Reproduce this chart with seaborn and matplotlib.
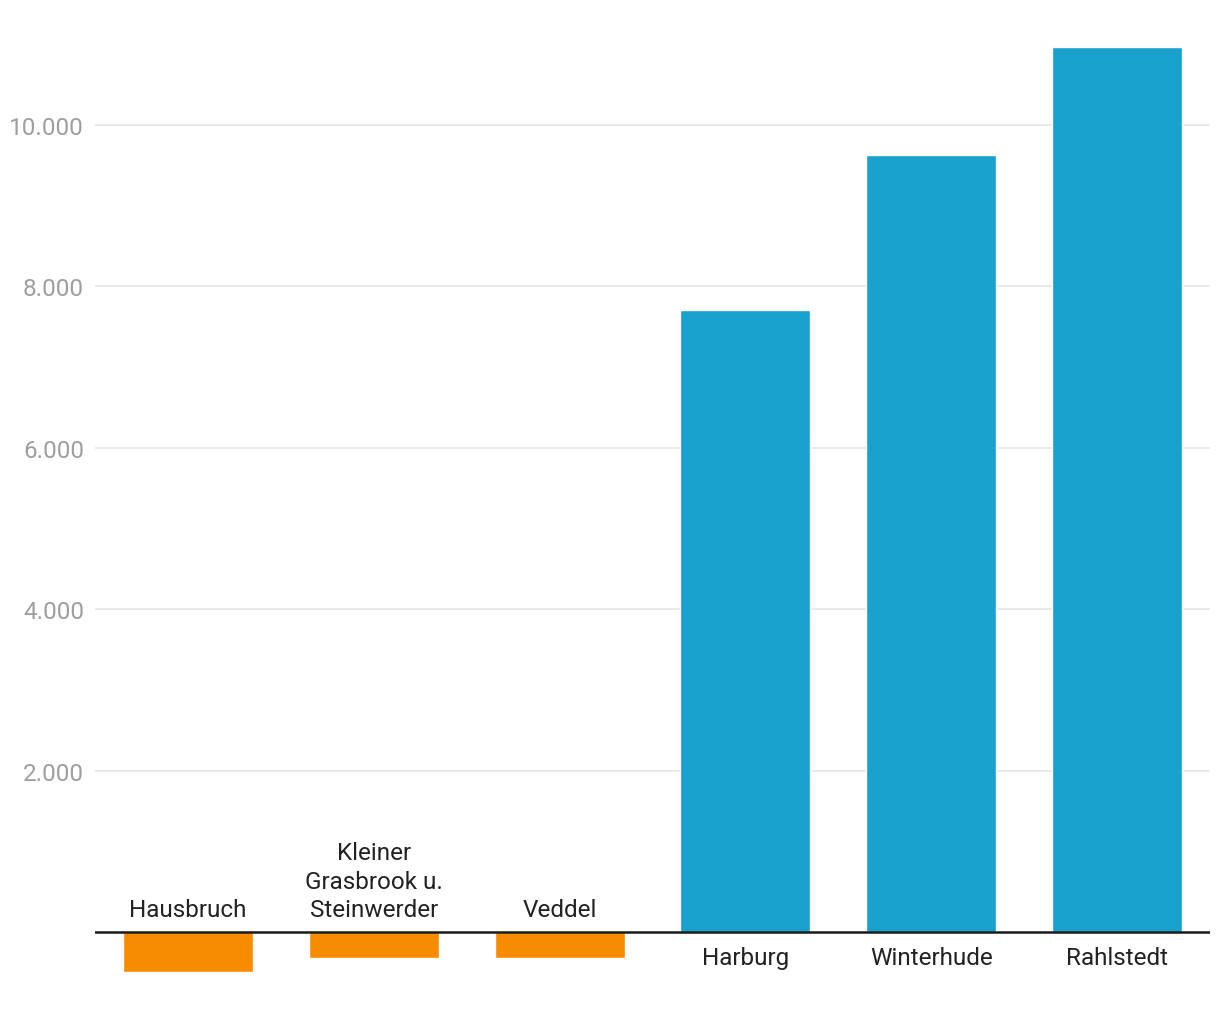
import matplotlib
matplotlib.use("Agg")
import matplotlib.pyplot as plt
import seaborn as sns
import pandas as pd
from matplotlib.ticker import FuncFormatter

categories = ["Hausbruch", "Kleiner\nGrasbrook u.\nSteinwerder", "Veddel",
              "Harburg", "Winterhude", "Rahlstedt"]
values = [-490, -320, -320, 7710, 9630, 10970]
yticks = [2000, 4000, 6000, 8000, 10000]

BLUE = "#19a1cd"
ORANGE = "#f78c00"

sns.set_theme(style="white")
plt.rcParams['font.family'] = ['Roboto', 'DejaVu Sans']

df = pd.DataFrame({"cat": categories, "val": values})
colors = [ORANGE if v < 0 else BLUE for v in values]

fig = plt.figure(figsize=(12.2, 10.2), dpi=100)
ax = fig.add_axes([95/1220, 1 - 997.6/1020, (1210-95)/1220, 992.6/1020])

sns.barplot(data=df, x="cat", y="val", hue="cat", palette=colors,
            legend=False, width=0.7, saturation=1, ax=ax, zorder=3)

ax.set_xlim(-0.5, len(categories) - 0.5)
ax.set_ylim(-800, 11500)
ax.set_yticks(yticks)
ax.yaxis.set_major_formatter(FuncFormatter(lambda v, p: f"{int(v):,}".replace(",", ".")))
ax.tick_params(axis="y", length=0, pad=8, labelsize=17.5, labelcolor="#9e9e9e")
ax.grid(axis="y", color="#e6e6e6", linewidth=1.2, zorder=0)
ax.set_xticks([])
ax.set_xlabel("")
ax.set_ylabel("")
for s in ax.spines.values():
    s.set_visible(False)

ax.axhline(0, color="#1a1a1a", linewidth=1.8, zorder=4)

for i, (c, v) in enumerate(zip(categories, values)):
    if v < 0:
        ax.annotate(c, (i, 0), xytext=(0, 8), textcoords="offset points",
                    ha="center", va="bottom", fontsize=17.5, color="#222222",
                    linespacing=1.3)
    else:
        ax.annotate(c, (i, 0), xytext=(0, -10), textcoords="offset points",
                    ha="center", va="top", fontsize=17.5, color="#222222",
                    linespacing=1.3)

fig.savefig("out.png", dpi=100)
